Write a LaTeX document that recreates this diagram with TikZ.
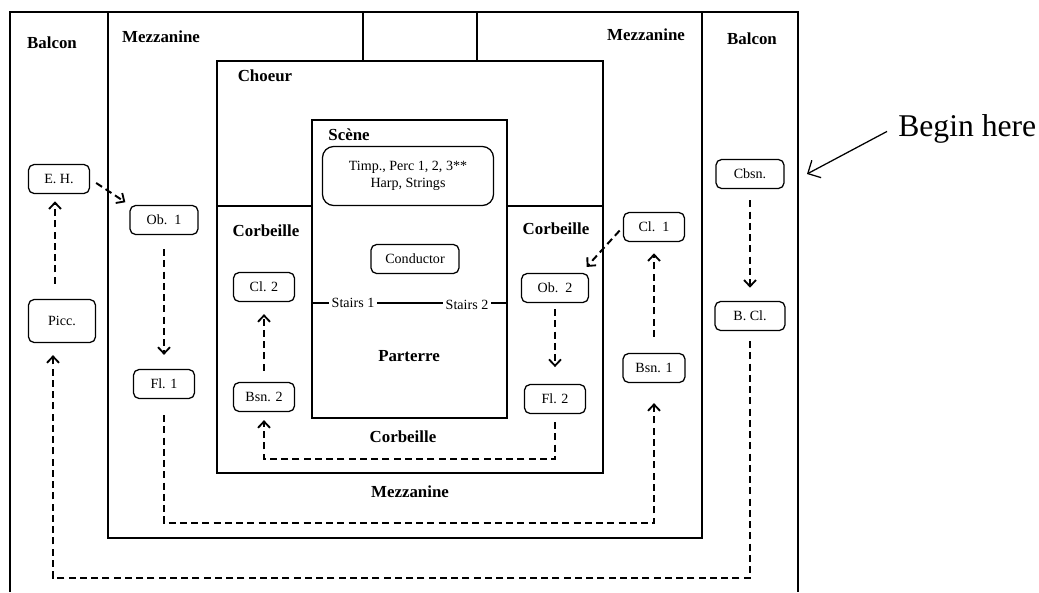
\documentclass[tikz,border=0pt]{standalone}
\usepackage{fontspec}
\setmainfont{Liberation Serif}
\usetikzlibrary{arrows.meta,positioning}
\tikzstyle{room} = [line width=1.2pt]
\tikzstyle{zone} = [font=\fontsize{12}{14}\selectfont\bfseries]
\tikzstyle{seat} = [draw, rounded corners=4pt, line width=0.9pt, font=\fontsize{10}{12}\selectfont, minimum width=1.525cm, minimum height=0.725cm, inner sep=1pt]
\tikzstyle{arrow} = [line width=1.4pt, dash pattern=on 5pt off 3pt, -{Straight Barb[length=4.5pt,width=8.5pt,line width=1.3pt]}]

\begin{document}
\begin{tikzpicture}[x=0.025cm, y=-0.025cm]
        \useasboundingbox (0,0) rectangle (1039,592);
        % floor plan
        \draw[room] (10,592) -- (10,12) -- (798,12) -- (798,592);
        \draw[room] (108,12) -- (108,538) -- (702,538) -- (702,12);
        \draw[room] (363,12) rectangle (477,61);
        \draw[room] (217,61) rectangle (603,473);
        \draw[room] (217,206) -- (312,206);
        \draw[room] (507,206) -- (603,206);
        \draw[room] (312,120) rectangle (507,418);
        \draw[room] (312,303) -- (507,303);
        \node[fill=white, inner sep=2pt, font=\fontsize{10}{12}\selectfont] (stairs1) at (353,303) {Stairs 1};
        \node[fill=white, inner sep=2pt, font=\fontsize{10}{12}\selectfont] (stairs2) at (467,305) {Stairs 2};

        \node[zone] (balconl) at (52,43) {Balcon};
        \node[zone] (mezzl) at (161,37) {Mezzanine};
        \node[zone] (choeur) at (265,76) {Choeur};
        \node[zone] (scene) at (349,135) {Scène};
        \node[zone] (corbl) at (266,231) {Corbeille};
        \node[zone] (corbr) at (556,229) {Corbeille};
        \node[zone] (mezzr) at (646,35) {Mezzanine};
        \node[zone] (balconr) at (752,39) {Balcon};
        \node[zone] (parterre) at (409,356) {Parterre};
        \node[zone] (corbb) at (403,437) {Corbeille};
        \node[zone] (mezzb) at (410,492) {Mezzanine};

        % players
        \node[seat, minimum width=4.275cm, minimum height=1.475cm, align=center, rounded corners=8pt] (tutti) at (408,176) {Timp., Perc 1, 2, 3**\\Harp, Strings};
        \node[seat, minimum width=2.2cm] (cond) at (415,259) {Conductor};
        \node[seat] (eh) at (59,179) {E. H.};
        \node[seat, minimum width=1.7cm] (ob1) at (164,220) {Ob.\ \ 1};
        \node[seat, minimum width=1.675cm, minimum height=1.075cm] (picc) at (62,321) {Picc.};
        \node[seat] (fl1) at (164,384) {Fl. 1};
        \node[seat] (cl2) at (264,287) {Cl. 2};
        \node[seat] (bsn2) at (264,397) {Bsn. 2};
        \node[seat, minimum width=1.675cm] (ob2) at (555,288) {Ob.\ \ 2};
        \node[seat] (fl2) at (555,399) {Fl. 2};
        \node[seat] (cl1) at (654,227) {Cl.\ \ 1};
        \node[seat, minimum width=1.55cm] (bsn1) at (654,368) {Bsn. 1};
        \node[seat, minimum width=1.7cm] (cbsn) at (750,174) {Cbsn.};
        \node[seat, minimum width=1.75cm] (bcl) at (750,316) {B. Cl.};

        \node[anchor=base west, font=\fontsize{22.5}{26}\selectfont, inner sep=0pt] (begin) at (898,136) {Begin here};
        \coordinate (entry) at (807,174);
        \coordinate (c0) at (55,250);
        \coordinate (c1) at (53,578);
        \coordinate (c2) at (164,523);
        \coordinate (c3) at (555,459);

        % order of play
        \draw[line width=0.9pt, -{Straight Barb[length=7pt,width=14pt,line width=0.9pt]}] ([shift={(-0.275cm,-0.075cm)}]begin.west) -- (entry);
        \draw[arrow, shorten <=0.28cm, shorten >=0.33cm] (cbsn) -- (bcl);
        \draw[arrow, shorten <=0.25cm, shorten >=0.3cm] (bcl) |- (c1) -- (c1 |- picc.south);
        \draw[arrow, shorten <=0.38cm, shorten >=0.18cm] (picc.north -| c0) -- (eh.south -| c0);
        \draw[arrow, shorten <=0.18cm, shorten >=0.12cm] (eh.east) -- (ob1.north west);
        \draw[arrow, shorten <=0.35cm, shorten >=0.35cm] (ob1) -- (fl1);
        \draw[arrow, shorten <=0.4cm, shorten >=0.5cm] (fl1) |- (c2) -| (bsn1);
        \draw[arrow, shorten <=0.4cm, shorten >=0.28cm] (bsn1) -- (cl1);
        \draw[arrow, shorten <=0.12cm, shorten >=0.2cm] (cl1.west) -- (ob2.30);
        \draw[arrow, shorten <=0.15cm, shorten >=0.42cm] (ob2) -- (fl2);
        \draw[arrow, shorten <=0.2cm, shorten >=0.2cm] (fl2) |- (c3) -| (bsn2);
        \draw[arrow, shorten <=0.28cm, shorten >=0.3cm] (bsn2) -- (cl2);
    \end{tikzpicture}
\end{document}
